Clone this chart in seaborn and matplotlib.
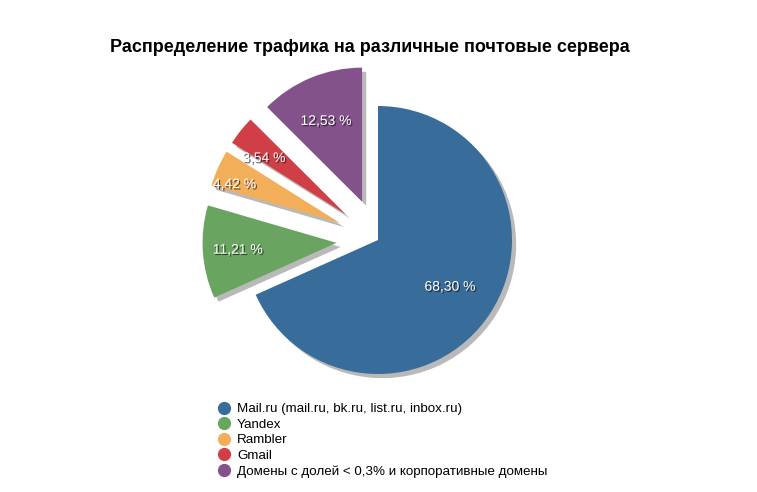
import matplotlib
matplotlib.use("Agg")
import numpy as np
import matplotlib.pyplot as plt
import matplotlib.patheffects as pe
from matplotlib.lines import Line2D
import seaborn as sns

# data
labels = ["Mail.ru (mail.ru, bk.ru, list.ru, inbox.ru)", "Yandex", "Rambler", "Gmail",
          "Домены с долей < 0,3% и корпоративные домены"]
shares = [68.30, 11.21, 4.42, 3.54, 12.53]
colors = ["#386C9A", "#69A461", "#F3AE5A", "#D13F46", "#83528A"]
explode = [0, 0.31, 0.31, 0.31, 0.31]
# label placement: distance along the slice and a small angular nudge (deg)
label_dist = [0.64, 0.74, 0.84, 0.74, 0.66]
label_turn = [0, 0, 4, 4, 1.5]

sns.set_theme(style="white")
plt.rcParams['font.family'] = ['Liberation Sans', 'DejaVu Sans']
plt.rcParams['text.color'] = 'black'

fig = plt.figure(figsize=(7.57, 4.92), dpi=100)
ax = fig.add_axes([0, 0, 1, 1])

wedges, texts, autotexts = ax.pie(
    shares, colors=colors, explode=explode, startangle=90, counterclock=False,
    autopct=lambda p: ("%.2f %%" % p).replace(".", ","), pctdistance=0.64,
    wedgeprops=dict(linewidth=0))

for w in wedges:
    w.set_path_effects([pe.SimplePatchShadow(offset=(3, -3), shadow_rgbFace="k", alpha=0.3),
                        pe.Normal()])
for w, t, d, a in zip(wedges, autotexts, label_dist, label_turn):
    mid = np.deg2rad((w.theta1 + w.theta2) / 2 + a)
    cx, cy = w.center
    t.set_position((cx + d * w.r * np.cos(mid), cy + d * w.r * np.sin(mid)))
    t.set_color("white")
    t.set_fontsize(10)
    t.set_path_effects([pe.withSimplePatchShadow(offset=(1, -1), shadow_rgbFace="k", alpha=0.7)])

# one unit = 134 px, pie centre at (378, 240) px from top-left
ax.set_xlim(-378 / 134, (757 - 378) / 134)
ax.set_ylim(-252 / 134, 240 / 134)
ax.axis("off")

fig.text(370 / 757, 1 - 48 / 492, "Распределение трафика на различные почтовые сервера",
         ha="center", va="center", fontsize=13, fontweight="bold", color="black")

handles = [Line2D([], [], marker="o", linestyle="", markersize=8.5, color=c) for c in colors]
fig.legend(handles, labels, loc="upper left", bbox_to_anchor=(217 / 757, 1 - 403 / 492),
           frameon=False, fontsize=9.6, handletextpad=0.5, labelspacing=0.24,
           handlelength=1.0, borderaxespad=0, borderpad=0, labelcolor="black")

fig.savefig("out.png", dpi=100)
